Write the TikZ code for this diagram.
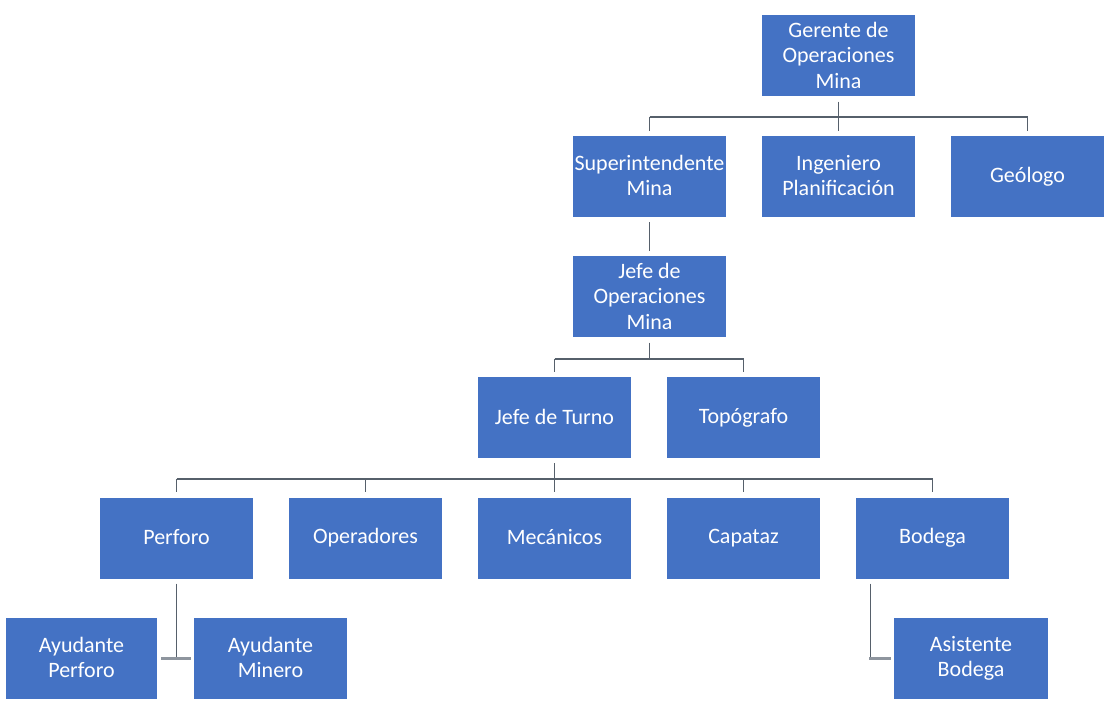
\documentclass[tikz,border=0pt]{standalone}
\usepackage{fontspec}
\setmainfont{Carlito}
% invisible strut that centres capital letters in a box
\newcommand{\capstrut}{\rule[-2pt]{0pt}{16pt}}
\begin{document}
\begin{tikzpicture}[x=1pt,y=-1pt,
  box/.style={rectangle, fill=boxblue, draw=none, text=white, inner sep=0pt,
    minimum width=153pt, minimum height=81pt, align=center,
    font=\fontsize{22}{25.5}\selectfont,
    execute at begin node={\capstrut}, execute at end node={\capstrut}},
  conn/.style={draw=linegray, line width=1.5pt},
  tick/.style={draw=tickgray, line width=2.5pt}]
\definecolor{boxblue}{HTML}{4472C4}
\definecolor{linegray}{HTML}{56606B}
\definecolor{tickgray}{HTML}{8E959E}
% page frame
\fill[white] (0,0) rectangle (1106,708);
\useasboundingbox (0,0) rectangle (1106,708);

% level 1
\node[box] (ger) at (838.5,56) {Gerente de\\Operaciones\\Mina};
% level 2
\node[box] (sup) at (649.5,176.5) {Superintendente\\Mina};
\node[box] (ing) at (838.5,176.5) {Ingeniero\\Planificación};
\node[box] (geo) at (1027.5,176.5) {Geólogo};
% level 3
\node[box] (jop) at (649.5,297) {Jefe de\\Operaciones\\Mina};
% level 4
\node[box] (tur) at (554.5,417.5) {Jefe de Turno};
\node[box] (top) at (743.5,417.5) {Topógrafo};
% level 5
\node[box] (per) at (176.5,538) {Perforo};
\node[box] (ope) at (365.5,538) {Operadores};
\node[box] (mec) at (554.5,538) {Mecánicos};
\node[box] (cap) at (743.5,538) {Capataz};
\node[box] (bod) at (932.5,538) {Bodega};
% level 6
\node[box, minimum width=151pt] (ayp) at (81.5,658.5) {Ayudante\\Perforo};
\node[box] (aym) at (270.5,658.5) {Ayudante\\Minero};
\node[box, minimum width=154pt] (asi) at (971,658.5) {Asistente\\Bodega};

% bus lines
\coordinate (busA) at (0,117);
\coordinate (busB) at (0,359);
\coordinate (busC) at (0,479);

% Gerente -> level 2
\draw[conn] ([yshift=-5pt]ger.south) -- (ger.south |- busA);
\draw[conn] (sup.north |- busA) -- (geo.north |- busA);
\foreach \n in {sup,ing,geo}
  \draw[conn] (\n.north |- busA) -- ([yshift=5pt]\n.north);

% Superintendente -> Jefe de Operaciones
\draw[conn] ([yshift=-5pt]sup.south) -- ([yshift=5pt]jop.north);

% Jefe de Operaciones -> level 4
\draw[conn] ([yshift=-5pt]jop.south) -- (jop.south |- busB);
\draw[conn] (tur.north |- busB) -- (top.north |- busB);
\foreach \n in {tur,top}
  \draw[conn] (\n.north |- busB) -- ([yshift=5pt]\n.north);

% Jefe de Turno -> level 5
\draw[conn] ([yshift=-5pt]tur.south) -- (tur.south |- busC);
\draw[conn] (per.north |- busC) -- (bod.north |- busC);
\foreach \n in {per,ope,mec,cap,bod}
  \draw[conn] (\n.north |- busC) -- ([yshift=5pt]\n.north);

% Perforo -> helpers
\draw[conn] ([yshift=-5pt]per.south) -- (per.south |- ayp.east);
\draw[tick] ([xshift=4pt]ayp.east) -- ([xshift=-3pt]aym.west);

% Bodega -> Asistente
\draw[conn] ([xshift=14.5pt,yshift=-5pt]bod.south west) -- ([xshift=14.5pt]bod.south west |- asi.west);
\draw[tick] ([xshift=13.5pt]bod.south west |- asi.west) -- ([xshift=-3pt]asi.west);
\end{tikzpicture}
\end{document}
